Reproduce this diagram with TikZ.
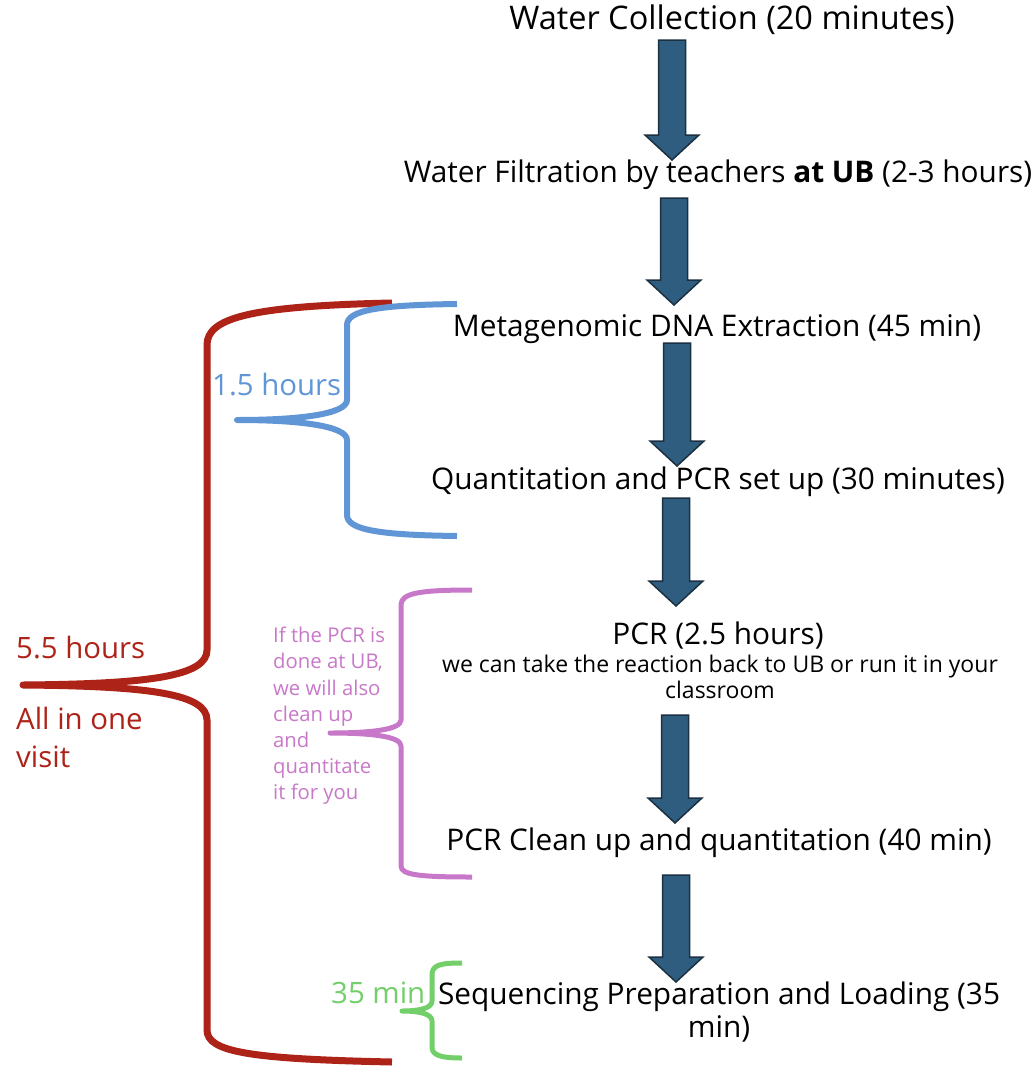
\documentclass[tikz,border=0pt]{standalone}
\usepackage{fontspec}
\setmainfont{Open Sans}
\definecolor{bracered}{HTML}{AE2318}
\definecolor{braceblue}{HTML}{6096D6}
\definecolor{bracemag}{HTML}{C878C8}
\definecolor{bracegreen}{HTML}{72CF6A}
\definecolor{arrowfill}{HTML}{2F5D80}
\definecolor{arrowline}{HTML}{1B3040}
\tikzset{
  steptext/.style={font=\fontsize{29.8}{33}\selectfont, inner sep=0pt, align=center},
  smalltext/.style={font=\fontsize{23}{26}\selectfont, inner sep=0pt, align=center},
  sidetext/.style={font=\fontsize{29.4}{38}\selectfont, inner sep=0pt, align=left},
  notetext/.style={font=\fontsize{20.3}{26.2}\selectfont, inner sep=0pt, align=left, text=bracemag},
  blockarrow/.style={fill=arrowfill, draw=arrowline, line width=1.5pt, line join=miter},
  brace/.style={line width=#1, line cap=butt, line join=round},
}
\newcommand\flowarrow[3]{%
  \filldraw[blockarrow] ({#1-13.5},{#2}) -- ({#1+13.5},{#2}) -- ({#1+13.5},{#3-25})
    -- ({#1+27},{#3-25}) -- ({#1},{#3}) -- ({#1-27},{#3-25}) -- ({#1-13.5},{#3-25}) -- cycle;}
\begin{document}
\begin{tikzpicture}[x=1pt, y=-1pt]
\useasboundingbox (0,0) rectangle (1034,1066);
% step texts
\node[steptext, font=\fontsize{32.5}{36}\selectfont] (t1) at (732,20) {Water Collection (20 minutes)};
\node[steptext] (t2) at (718,175) {Water Filtration by teachers \textbf{at UB} (2-3 hours)};
\node[steptext] (t3) at (717,329) {Metagenomic DNA Extraction (45 min)};
\node[steptext] (t4) at (718,482) {Quantitation and PCR set up (30 minutes)};
\node[steptext] (t5) at (718,636) {PCR (2.5 hours)};
\node[smalltext, anchor=north] (t5b) at (720,655) {we can take the reaction back to UB or run it in your\\classroom};
\node[steptext] (t6) at (719,843) {PCR Clean up and quantitation (40 min)};
\node[steptext, anchor=north] (t7) at (719,982) {Sequencing Preparation and Loading (35\\min)};
% block arrows
\flowarrow{672}{40}{160}
\flowarrow{674}{198}{305}
\flowarrow{677}{343}{466}
\flowarrow{676}{498}{606}
\flowarrow{675}{715}{823}
\flowarrow{676}{875}{982}
% red brace
\draw[brace=7pt, bracered] (392,303) .. controls (250,306) and (207,318) .. (207,345)
  -- (207,650) .. controls (207,676) and (150,684) .. (23,685)
  .. controls (150,686) and (207,694) .. (207,720)
  -- (207,1030) .. controls (207,1052) and (250,1059) .. (392,1062);
% blue brace
\draw[brace=6pt, braceblue] (457,304) .. controls (380,305) and (347,310) .. (347,325)
  -- (347,400) .. controls (347,414) and (300,420) .. (237,420)
  .. controls (300,420) and (347,426) .. (347,440)
  -- (347,515) .. controls (347,530) and (380,535) .. (457,536);
% magenta brace
\draw[brace=5pt, bracemag] (472,590) .. controls (420,590) and (401,593) .. (401,605)
  -- (401,720) .. controls (401,729) and (375,733) .. (330,733)
  .. controls (375,733) and (401,737) .. (401,746)
  -- (401,866) .. controls (401,875) and (420,877) .. (472,877);
% green brace
\draw[brace=5pt, bracegreen] (462,963) .. controls (440,963) and (432,965) .. (432,975)
  -- (432,1001) .. controls (432,1008) and (420,1011) .. (402,1011)
  .. controls (420,1011) and (432,1014) .. (432,1021)
  -- (432,1047) .. controls (432,1055) and (440,1058) .. (462,1058);
% side labels
\node[sidetext, text=braceblue, anchor=west] (l15) at (212,385) {1.5 hours};
\node[sidetext, text=bracered, anchor=west] (l55) at (16,648) {5.5 hours};
\node[sidetext, text=bracered, anchor=north west] (lvisit) at (16,707) {All in one\\visit};
\node[notetext, anchor=north west] (lnote) at (273,627) {If the PCR is\\done at UB,\\we will also\\clean up\\and\\quantitate\\it for you};
\node[sidetext, text=bracegreen, anchor=west] (l35) at (331,993) {35 min};
\end{tikzpicture}
\end{document}
